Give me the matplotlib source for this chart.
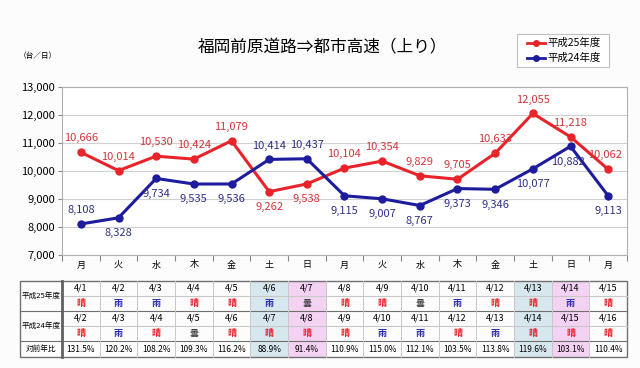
import matplotlib
matplotlib.use("Agg")
import matplotlib.pyplot as plt
from matplotlib.patches import Rectangle
from matplotlib.lines import Line2D

plt.rcParams['font.family'] = ['Noto Sans CJK JP', 'DejaVu Sans']

days = ['月', '火', '水', '木', '金', '土', '日', '月', '火', '水', '木', '金', '土', '日', '月']
h25 = [10666, 10014, 10530, 10424, 11079, 9262, 9538, 10104, 10354, 9829, 9705, 10633, 12055, 11218, 10062]
h24 = [8108, 8328, 9734, 9535, 9536, 10414, 10437, 9115, 9007, 8767, 9373, 9346, 10077, 10882, 9113]
dates25 = ['4/1', '4/2', '4/3', '4/4', '4/5', '4/6', '4/7', '4/8', '4/9', '4/10', '4/11', '4/12', '4/13', '4/14', '4/15']
dates24 = ['4/2', '4/3', '4/4', '4/5', '4/6', '4/7', '4/8', '4/9', '4/10', '4/11', '4/12', '4/13', '4/14', '4/15', '4/16']
weather25 = ['晴', '雨', '雨', '晴', '晴', '雨', '曇', '晴', '晴', '曇', '雨', '晴', '晴', '雨', '晴']
weather24 = ['晴', '雨', '晴', '曇', '晴', '晴', '晴', '晴', '雨', '雨', '晴', '雨', '晴', '晴', '晴']
ratios = ['131.5%', '120.2%', '108.2%', '109.3%', '116.2%', '88.9%', '91.4%', '110.9%', '115.0%',
          '112.1%', '103.5%', '113.8%', '119.6%', '103.1%', '110.4%']
yticks = [7000, 8000, 9000, 10000, 11000, 12000, 13000]
series_names = ['平成25年度', '平成24年度']

U, D = 10, -11
off25 = [(0, U), (0, U), (0, U), (0, U), (0, U), (0, D), (0, D), (0, U), (0, U), (0, U),
         (0, U), (0, U), (0, U), (0, U), (-2, U)]
off24 = [(0, U), (0, D), (0, D), (0, D), (0, D), (0, U), (0, U), (0, D), (0, D), (0, D),
         (0, D), (0, D), (0, D), (-2, D), (0, D)]

RED = '#e8242a'
BLUE = '#1c1c9c'
RLAB = '#d0363a'
BLAB = '#303088'
WCOL = {'晴': '#e8242a', '雨': '#3030b0', '曇': '#404040'}
SAT = '#d6e7ee'
SUN = '#f3d2f3'

W, H = 640, 368
fig = plt.figure(figsize=(6.4, 3.68), dpi=100)
fig.patch.set_facecolor('#fbfcfb')

L, R, T, B = 62, 627, 87, 255
ax = fig.add_axes([L / W, 1 - B / H, (R - L) / W, (B - T) / H])
ax.set_facecolor('white')
n = len(days)
x = list(range(n))
ax.plot(x, h25, color=RED, lw=2.2, marker='o', ms=5, zorder=3)
ax.plot(x, h24, color=BLUE, lw=2.2, marker='o', ms=5, zorder=3)
for i in range(n):
    ax.annotate(f'{h25[i]:,}', (x[i], h25[i]), xytext=off25[i], textcoords='offset points',
                ha='center', va='center', fontsize=8, color=RLAB)
    ax.annotate(f'{h24[i]:,}', (x[i], h24[i]), xytext=off24[i], textcoords='offset points',
                ha='center', va='center', fontsize=8, color=BLAB)
ax.set_xlim(-0.5, n - 0.5)
ax.set_ylim(7000, 13000)
ax.set_yticks(yticks)
ax.set_yticklabels([f'{v:,}' for v in yticks], fontsize=8)
ax.yaxis.grid(True, color='#d0d0d0', lw=0.8)
ax.set_axisbelow(True)
ax.set_xticks([i - 0.5 for i in range(n + 1)])
ax.set_xticklabels([])
ax.tick_params(axis='x', length=4, color='#888888')
ax.tick_params(axis='y', length=3, color='#888888', pad=2)
for s in ax.spines.values():
    s.set_color('#b0b0b0')
    s.set_linewidth(0.8)

ov2 = fig.add_axes([0, 0, 1, 1])
ov2.set_xlim(0, W)
ov2.set_ylim(H, 0)
ov2.axis('off')
ov2.patch.set_alpha(0)

ov2.text(322, 48, '福岡前原道路⇒都市高速（上り）', ha='center', va='center', fontsize=12)
ov2.text(38, 56, '（台／日）', ha='center', va='center', fontsize=5.5)

# legend box
ov2.add_patch(Rectangle((517, 34), 92, 33, fc='white', ec='#c0c0c0', lw=0.8))
for j, (name, c) in enumerate(zip(series_names, [RED, BLUE])):
    yy = 43 + j * 15
    ov2.add_line(Line2D([527, 545], [yy, yy], color=c, lw=2))
    ov2.plot([536], [yy], marker='o', ms=4, color=c)
    ov2.text(547, yy, name, ha='left', va='center', fontsize=7.5)

colw = (R - L) / n
for i in range(n):
    ov2.text(L + colw * (i + 0.5), 265, days[i], ha='center', va='center', fontsize=6.5)

rows = [281, 296, 311, 326, 341, 357]
TL = 20
for i in range(n):
    c = None
    if days[i] == '土':
        c = SAT
    elif days[i] == '日':
        c = SUN
    if c:
        ov2.add_patch(Rectangle((L + colw * i, rows[0]), colw, rows[5] - rows[0], fc=c, ec='none'))
ov2.add_patch(Rectangle((TL, rows[0]), R - TL, rows[5] - rows[0], fc='none', ec='#707070', lw=1.0))
for yy in rows[1:-1]:
    dark = yy in (rows[2], rows[4])
    ov2.add_line(Line2D([L if not dark else TL, R], [yy, yy], color='#707070' if dark else '#c8c8c8', lw=0.8))
for i in range(1, n):
    ov2.add_line(Line2D([L + colw * i] * 2, [rows[0], rows[5]], color='#c8c8c8', lw=0.7))
ov2.add_line(Line2D([L, L], [rows[0], rows[5]], color='#606060', lw=2.0))

row_labels = ['平成25年度', '平成24年度', '対前年比']
ov2.text((TL + L) / 2, (rows[0] + rows[2]) / 2, row_labels[0], ha='center', va='center', fontsize=5.5)
ov2.text((TL + L) / 2, (rows[2] + rows[4]) / 2, row_labels[1], ha='center', va='center', fontsize=5.5)
ov2.text((TL + L) / 2, (rows[4] + rows[5]) / 2, row_labels[2], ha='center', va='center', fontsize=5.5)
for i in range(n):
    cx = L + colw * (i + 0.5)
    ov2.text(cx, (rows[0] + rows[1]) / 2, dates25[i], ha='center', va='center', fontsize=6.5)
    ov2.text(cx, (rows[1] + rows[2]) / 2, weather25[i], ha='center', va='center', fontsize=6.5,
             color=WCOL[weather25[i]], fontweight='bold')
    ov2.text(cx, (rows[2] + rows[3]) / 2, dates24[i], ha='center', va='center', fontsize=6.5)
    ov2.text(cx, (rows[3] + rows[4]) / 2, weather24[i], ha='center', va='center', fontsize=6.5,
             color=WCOL[weather24[i]], fontweight='bold')
    ov2.text(cx, (rows[4] + rows[5]) / 2, ratios[i], ha='center', va='center', fontsize=6)

fig.savefig('out.png', dpi=100, facecolor=fig.get_facecolor())
